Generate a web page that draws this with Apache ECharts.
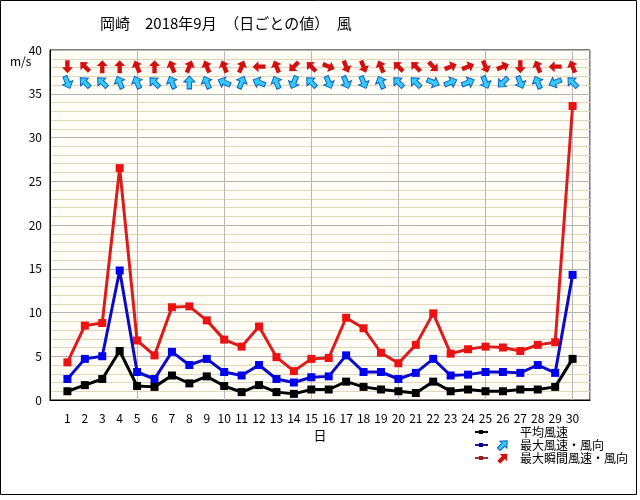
<!DOCTYPE html>
<html>
<head>
<meta charset="utf-8">
<script src="https://cdn.jsdelivr.net/npm/echarts@6/dist/echarts.min.js"></script>
<style>
  html, body { margin: 0; padding: 0; background: #fff; }
  #chart { width: 640px; height: 500px; }
</style>
</head>
<body>
<div id="chart"></div>
<script>
// 岡崎 2018年9月 日ごとの風
var days = [];
for (var d = 1; d <= 30; d++) days.push(d);

var yTicks = [0, 5, 10, 15, 20, 25, 30, 35, 40];

// 平均風速 (m/s)
var avgSpeed = [1.0, 1.7, 2.4, 5.6, 1.6, 1.5, 2.8, 1.9, 2.7, 1.6,
                0.9, 1.7, 0.9, 0.7, 1.2, 1.2, 2.1, 1.5, 1.2, 1.0,
                0.8, 2.1, 1.0, 1.2, 1.0, 1.0, 1.2, 1.2, 1.5, 4.7];
// 最大風速
var maxSpeed = [2.4, 4.7, 5.0, 14.8, 3.2, 2.4, 5.5, 4.0, 4.7, 3.2,
                2.8, 4.0, 2.4, 2.0, 2.6, 2.7, 5.1, 3.2, 3.2, 2.4,
                3.1, 4.7, 2.8, 2.9, 3.2, 3.2, 3.1, 4.0, 3.1, 14.3];
// 最大瞬間風速
var gustSpeed = [4.3, 8.5, 8.8, 26.5, 6.8, 5.1, 10.6, 10.7, 9.1, 6.9,
                 6.1, 8.4, 4.9, 3.3, 4.7, 4.8, 9.4, 8.2, 5.4, 4.2,
                 6.3, 9.9, 5.3, 5.8, 6.1, 6.0, 5.6, 6.3, 6.6, 33.6];

// 風向 (吹いてくる方位)
var maxDir = ['北北西', '南東', '南東', '南南東', '南南東', '南東', '南南東', '南', '南南東', '東南東',
              '南南西', '東南東', '南南東', '北北東', '南東', '北北西', '北北西', '北北西', '南南東', '南東',
              '南東', '西北西', '西南西', '西南西', '北北西', '北東', '北北西', '南南東', '東北東', '南東'];
var gustDir = ['北', '南東', '南', '南', '南南東', '南', '南南東', '南南西', '南南東', '南南東',
               '南南西', '東', '南南東', '北東', '南東', '西北西', '北北西', '北北西', '南南東', '南東',
               '南東', '北西', '西南西', '西南西', '北北西', '西南西', '北', '南南東', '東', '南南東'];

var compass = ['北', '北北東', '北東', '東北東', '東', '東南東', '南東', '南南東',
               '南', '南南西', '南西', '西南西', '西', '西北西', '北西', '北北西'];

var arrowPath = 'path://M5,0 L10,5.5 L7,5.5 L7,12 L3,12 L3,5.5 L0,5.5 Z';
var arrowPts = [[5, 0], [10, 5.5], [7, 5.5], [7, 12], [3, 12], [3, 5.5], [0, 5.5]];
var font = '"Noto Sans CJK JP", sans-serif';

function linePoints(vals) {
    return vals.map(function (v, i) { return [days[i], v]; });
}

// arrow points downwind: from-direction + 180
function arrowPoints(dirs, y) {
    return dirs.map(function (name, i) {
        var deg = compass.indexOf(name) * 22.5 + 180;
        return { value: [days[i], y], symbolRotate: -deg };
    });
}

var chart = echarts.init(document.getElementById('chart'));

var option = {
    backgroundColor: '#ffffff',
    animation: false,
    textStyle: { fontFamily: font },
    grid: {
        left: 50, top: 50, width: 540, height: 350,
        show: true,
        backgroundColor: '#fffdf6',
        borderColor: '#000',
        borderWidth: 1
    },
    xAxis: [{
        type: 'value',
        min: 0, max: 31, interval: 1,
        name: '日',
        nameLocation: 'middle',
        nameGap: 24,
        nameTextStyle: { color: '#000', fontSize: 13, fontFamily: font },
        axisLine: { show: true, lineStyle: { color: '#000', width: 1 } },
        axisTick: { show: false },
        splitLine: { show: false },
        axisLabel: {
            color: '#000', fontSize: 12, fontFamily: font, margin: 12,
            formatter: function (v) { return (v >= 1 && v <= 30) ? String(v) : ''; }
        }
    }, {
        type: 'value',
        min: 0, max: 31, interval: 5,
        position: 'bottom',
        axisLine: { show: false },
        axisTick: { show: false },
        axisLabel: { show: false },
        splitLine: { show: true, lineStyle: { color: '#b8b8b8', width: 1 } }
    }],
    yAxis: [{
        type: 'value',
        min: 0, max: 40, interval: 5,
        axisLine: { show: true, lineStyle: { color: '#000', width: 1 } },
        axisTick: { show: false },
        axisLabel: {
            color: '#000', fontSize: 12, fontFamily: font, margin: 8,
            formatter: function (v) { return yTicks.indexOf(v) >= 0 ? String(v) : ''; }
        },
        splitLine: { show: true, lineStyle: { color: '#b4b4b4', width: 1 } },
        minorTick: { show: false, splitNumber: 5 },
        minorSplitLine: { show: true, lineStyle: { color: '#e4d6bb', width: 1 } }
    }],
    graphic: [
        { type: 'rect', shape: { x: 0.5, y: 0.5, width: 636, height: 494 },
          style: { fill: 'none', stroke: '#000', lineWidth: 1 }, silent: true },
        { type: 'text', x: 100, y: 16,
          style: { text: '岡崎　2018年9月　（日ごとの値）　風', fill: '#000', font: '15px ' + font } },
        { type: 'text', x: 10, y: 55,
          style: { text: 'm/s', fill: '#000', font: '12px ' + font } },
        // legend
        { type: 'line', shape: { x1: 475, y1: 432, x2: 488, y2: 432 }, style: { stroke: '#000', lineWidth: 2 } },
        { type: 'rect', shape: { x: 479, y: 430, width: 4, height: 4 }, style: { fill: '#000' } },
        { type: 'line', shape: { x1: 475, y1: 445, x2: 488, y2: 445 }, style: { stroke: '#1a1a8c', lineWidth: 2 } },
        { type: 'rect', shape: { x: 479, y: 443, width: 4, height: 4 }, style: { fill: '#00008b' } },
        { type: 'line', shape: { x1: 475, y1: 458, x2: 488, y2: 458 }, style: { stroke: '#a03030', lineWidth: 2 } },
        { type: 'rect', shape: { x: 479, y: 456, width: 4, height: 4 }, style: { fill: '#902020' } },
        { type: 'polygon', shape: { points: arrowPts },
          x: 498, y: 439, originX: 5, originY: 6, rotation: -Math.PI / 4,
          style: { fill: '#33ccff', stroke: '#1060c0', lineWidth: 1 } },
        { type: 'polygon', shape: { points: arrowPts },
          x: 498, y: 452, originX: 5, originY: 6, rotation: -Math.PI / 4,
          style: { fill: '#d40f0f' } },
        { type: 'text', x: 520, y: 432,
          style: { text: '平均風速', fill: '#000', font: '12px ' + font, verticalAlign: 'middle' } },
        { type: 'text', x: 520, y: 445,
          style: { text: '最大風速・風向', fill: '#000', font: '12px ' + font, verticalAlign: 'middle' } },
        { type: 'text', x: 520, y: 458,
          style: { text: '最大瞬間風速・風向', fill: '#000', font: '12px ' + font, verticalAlign: 'middle' } }
    ],
    series: [
        {
            name: '最大瞬間風速・風向',
            type: 'line',
            data: linePoints(gustSpeed),
            symbol: 'rect', symbolSize: 8,
            lineStyle: { color: '#dd1b1b', width: 3 },
            itemStyle: { color: '#ee1111' },
            z: 3
        },
        {
            name: '最大風速・風向',
            type: 'line',
            data: linePoints(maxSpeed),
            symbol: 'rect', symbolSize: 8,
            lineStyle: { color: '#0a0ac8', width: 3 },
            itemStyle: { color: '#0000f0' },
            z: 4
        },
        {
            name: '平均風速',
            type: 'line',
            data: linePoints(avgSpeed),
            symbol: 'rect', symbolSize: 8,
            lineStyle: { color: '#000', width: 3 },
            itemStyle: { color: '#000' },
            z: 5
        },
        {
            name: '最大瞬間風向',
            type: 'scatter',
            data: arrowPoints(gustDir, 38.1),
            symbol: arrowPath, symbolSize: [11, 13],
            itemStyle: { color: '#d40f0f', opacity: 1 },
            z: 6
        },
        {
            name: '最大風向',
            type: 'scatter',
            data: arrowPoints(maxDir, 36.3),
            symbol: arrowPath, symbolSize: [11, 13],
            itemStyle: { color: '#33ccff', borderColor: '#1060c0', borderWidth: 1, opacity: 1 },
            z: 6
        }
    ]
};

chart.setOption(option);
</script>
</body>
</html>
